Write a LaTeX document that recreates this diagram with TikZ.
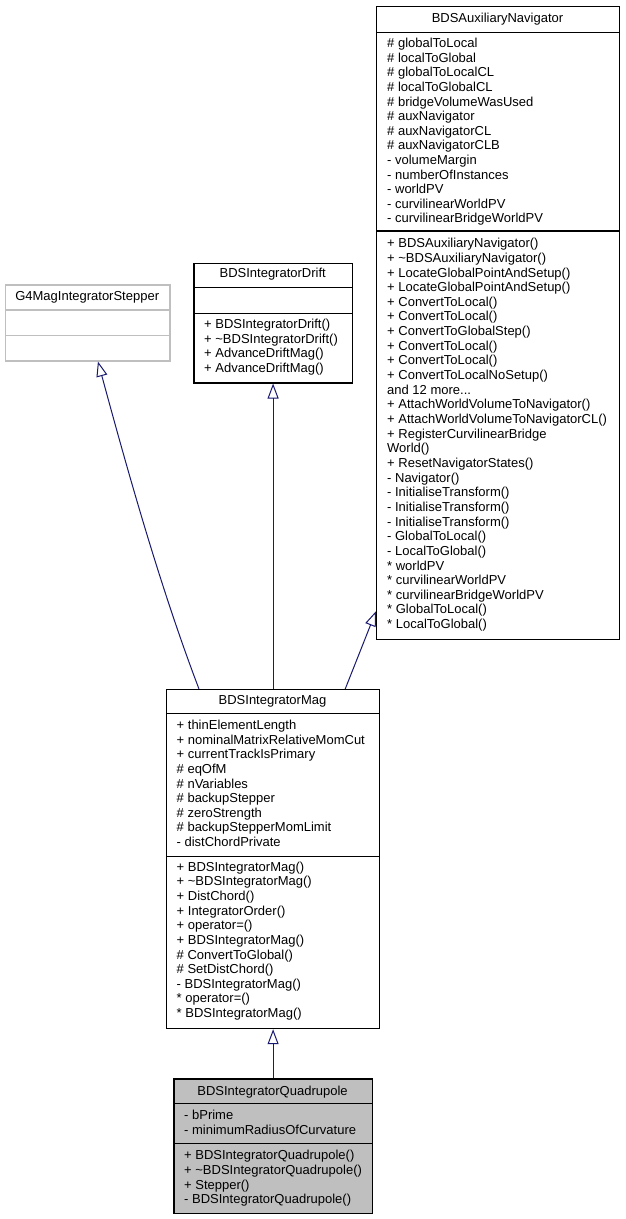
\documentclass[tikz,border=0pt]{standalone}
\usepackage{fontspec}
\setmainfont{Liberation Sans}
\usetikzlibrary{arrows.meta,calc}
\definecolor{edgeblue}{HTML}{191970}
\definecolor{greyseventyfive}{HTML}{BFBFBF}
\tikzset{
  txt/.style={anchor=base west, inner sep=0pt, font=\fontsize{13}{14}\selectfont},
  ttl/.style={anchor=base, inner sep=0pt, font=\fontsize{13}{14}\selectfont},
  classbox/.style={draw=black, line width=1.2pt, inner sep=0pt, anchor=north west},
  greybox/.style={classbox, draw=greyseventyfive},
  sepline/.style={line width=1.2pt},
  inh/.style={draw=edgeblue, line width=1pt, -{Triangle[open, length=15pt, width=11pt]}},
}
\newcommand\threedots{...}
\newcommand\classlines[5]{%
  \foreach \t [count=\i] in {#5} {\node[txt] (#1-\i) at (#2, {#3+(\i-1)*#4}) {\t};}}
\begin{document}
\begin{tikzpicture}[x=1pt,y=-1pt]
\useasboundingbox[fill=white] (0,0) rectangle (625,1219);

% ---------- BDSAuxiliaryNavigator ----------
\node[classbox, minimum width=243pt, minimum height=633pt] (aux) at (376,6) {};
\draw[sepline] (376,32.7) -- (619,32.7);
\draw[sepline] (376,231) -- (619,231);
\node[ttl] (auxt) at (497.5,22.8) {BDSAuxiliaryNavigator};
\classlines{auxa}{387}{47.7}{14.6}{\# globalToLocal,\# localToGlobal,\# globalToLocalCL,\# localToGlobalCL,\# bridgeVolumeWasUsed,\# auxNavigator,\# auxNavigatorCL,\# auxNavigatorCLB,- volumeMargin,- numberOfInstances,- worldPV,- curvilinearWorldPV,- curvilinearBridgeWorldPV}
\classlines{auxm}{387}{247.7}{14.65}{+ BDSAuxiliaryNavigator(),+ \textasciitilde BDSAuxiliaryNavigator(),+ LocateGlobalPointAndSetup(),+ LocateGlobalPointAndSetup(),+ ConvertToLocal(),+ ConvertToLocal(),+ ConvertToGlobalStep(),+ ConvertToLocal(),+ ConvertToLocal(),+ ConvertToLocalNoSetup(),and 12 more\threedots,+ AttachWorldVolumeToNavigator(),+ AttachWorldVolumeToNavigatorCL(),+ RegisterCurvilinearBridge,World(),+ ResetNavigatorStates(),- Navigator(),- InitialiseTransform(),- InitialiseTransform(),- InitialiseTransform(),- GlobalToLocal(),- LocalToGlobal(),* worldPV,* curvilinearWorldPV,* curvilinearBridgeWorldPV,* GlobalToLocal(),* LocalToGlobal()}

% ---------- G4MagIntegratorStepper ----------
\node[greybox, minimum width=164.3pt, minimum height=76pt] (g4) at (5,284.3) {};
\draw[sepline, draw=greyseventyfive] (5,310) -- (169.3,310);
\draw[sepline, draw=greyseventyfive] (5,335.3) -- (169.3,335.3);
\node[ttl] (g4t) at (87.2,300.2) {G4MagIntegratorStepper};

% ---------- BDSIntegratorDrift ----------
\node[classbox, minimum width=158.7pt, minimum height=119.6pt] (drift) at (193.3,262.7) {};
\draw[sepline] (193.3,287.7) -- (352,287.7);
\draw[sepline] (193.3,313.3) -- (352,313.3);
\node[ttl] (driftt) at (272.7,277.8) {BDSIntegratorDrift};
\classlines{driftm}{204}{328.4}{14.65}{+ BDSIntegratorDrift(),+ \textasciitilde BDSIntegratorDrift(),+ AdvanceDriftMag(),+ AdvanceDriftMag()}

% ---------- BDSIntegratorMag ----------
\node[classbox, minimum width=213pt, minimum height=339pt] (mag) at (166,689) {};
\draw[sepline] (166,713.3) -- (379,713.3);
\draw[sepline] (166,856.3) -- (379,856.3);
\node[ttl] (magt) at (272.5,704.4) {BDSIntegratorMag};
\classlines{maga}{176.5}{729.4}{14.65}{+ thinElementLength,+ nominalMatrixRelativeMomCut,+ currentTrackIsPrimary,\# eqOfM,\# nVariables,\# backupStepper,\# zeroStrength,\# backupStepperMomLimit,- distChordPrivate}
\classlines{magm}{176.5}{871.1}{14.65}{+ BDSIntegratorMag(),+ \textasciitilde BDSIntegratorMag(),+ DistChord(),+ IntegratorOrder(),+ operator=(),+ BDSIntegratorMag(),\# ConvertToGlobal(),\# SetDistChord(),- BDSIntegratorMag(),* operator=(),* BDSIntegratorMag()}

% ---------- BDSIntegratorQuadrupole ----------
\node[classbox, fill=greyseventyfive, minimum width=198.4pt, minimum height=134.4pt] (quad) at (173.3,1078.3) {};
\draw[sepline] (173.3,1103.3) -- (371.7,1103.3);
\draw[sepline] (173.3,1143.3) -- (371.7,1143.3);
\node[ttl] (quadt) at (272.5,1095.1) {BDSIntegratorQuadrupole};
\classlines{quada}{184}{1119.4}{14.6}{- bPrime,- minimumRadiusOfCurvature}
\classlines{quadm}{184}{1159.9}{14.65}{+ BDSIntegratorQuadrupole(),+ \textasciitilde BDSIntegratorQuadrupole(),+ Stepper(),- BDSIntegratorQuadrupole()}

% ---------- inheritance connectors ----------
\draw[inh] ($(mag.north west)+(33,0)$) .. controls (159.5,585.4) and (126.6,467) .. ($(g4.south)+(10.2,0)$);
\draw[inh] (mag.north) -- (mag.north |- drift.south);
\draw[inh] ($(mag.north east)+(-35,0)$) -- ($(aux.south west)+(0,-29)$);
\draw[inh] (quad.north) -- (mag.south);
\end{tikzpicture}
\end{document}
